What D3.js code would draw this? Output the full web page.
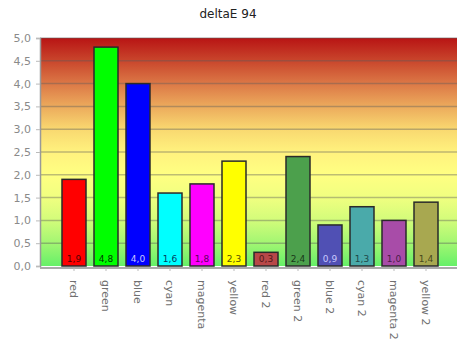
<!DOCTYPE html>
<html>
<head>
<meta charset="utf-8">
<script src="https://cdn.jsdelivr.net/npm/d3@7"></script>
<style>
  html, body { margin: 0; padding: 0; background: #fff; }
  svg { display: block; }
</style>
</head>
<body>
<div id="chart"></div>
<script>
// deltaE 94 per colour patch
const categories = ["red", "green", "blue", "cyan", "magenta", "yellow",
  "red 2", "green 2", "blue 2", "cyan 2", "magenta 2", "yellow 2"];
const values = [1.9, 4.8, 4.0, 1.6, 1.8, 2.3, 0.3, 2.4, 0.9, 1.3, 1.0, 1.4];
const barColors = ["#ff0000", "#00ff00", "#0000ff", "#00ffff", "#ff00ff", "#ffff00",
  "#b84848", "#4ca04c", "#5050b4", "#4aaaaa", "#a84ca8", "#a8a850"];
const labelColors = ["#500000", "#003800", "#c8c8ff", "#004060", "#600060", "#505000",
  "#501818", "#183818", "#c8c8ff", "#1c4848", "#481c48", "#48481c"];
const yTicks = [0, 0.5, 1, 1.5, 2, 2.5, 3, 3.5, 4, 4.5, 5];
const title = "deltaE 94";

const W = 457, H = 340;
const plot = { left: 40, right: 457, top: 38, bottom: 266 };

const svg = d3.select("#chart").append("svg")
  .attr("width", W).attr("height", H);

const x = d3.scaleBand()
  .domain(categories)
  .range([58, 442])
  .paddingInner(0.25)
  .paddingOuter(0.125);

const y = d3.scaleLinear().domain([0, 5]).range([plot.bottom, plot.top]);

const fmt = v => d3.format(".1f")(v).replace(".", ",");

// background gradient: red at the top through yellow to green at zero
const defs = svg.append("defs");
const grad = defs.append("linearGradient")
  .attr("id", "bg").attr("x1", 0).attr("y1", 0).attr("x2", 0).attr("y2", 1);
[["0%", "#b81414"], ["10%", "#c9462c"], ["20%", "#dc7846"], ["30%", "#ecaa5c"],
 ["40%", "#f9d870"], ["50%", "#fff27e"], ["60%", "#ffff82"], ["70%", "#f0ff80"],
 ["80%", "#d2fc7a"], ["90%", "#a2f672"], ["100%", "#66f068"]]
  .forEach(([o, c]) => grad.append("stop").attr("offset", o).attr("stop-color", c));

svg.append("rect")
  .attr("x", plot.left).attr("y", plot.top)
  .attr("width", plot.right - plot.left).attr("height", plot.bottom - plot.top)
  .attr("fill", "url(#bg)");

// horizontal grid lines
svg.append("g").selectAll("line")
  .data(yTicks.filter(t => t > 0))
  .join("line")
  .attr("x1", plot.left).attr("x2", plot.right)
  .attr("y1", d => y(d)).attr("y2", d => y(d))
  .attr("stroke", "rgba(90,90,90,0.4)")
  .attr("stroke-width", 1.5);

// y axis
const yAxis = svg.append("g")
  .attr("transform", `translate(${plot.left},0)`)
  .call(d3.axisLeft(y).tickValues(yTicks).tickFormat(fmt).tickSize(4).tickPadding(5));
yAxis.select(".domain").attr("stroke", "#999").attr("stroke-width", 1.5);
yAxis.selectAll(".tick line").attr("stroke", "#bbb");
yAxis.selectAll("text")
  .attr("fill", "#8a8a8a")
  .style("font-family", "DejaVu Sans, sans-serif")
  .style("font-size", "11px");

// bars
svg.append("g").selectAll("rect")
  .data(values)
  .join("rect")
  .attr("x", (d, i) => x(categories[i]))
  .attr("y", d => y(d))
  .attr("width", x.bandwidth())
  .attr("height", d => y(0) - y(d))
  .attr("fill", (d, i) => barColors[i])
  .attr("stroke", "#2a2a2a")
  .attr("stroke-width", 1.5);

// value labels at the foot of each bar
svg.append("g").selectAll("text")
  .data(values)
  .join("text")
  .attr("x", (d, i) => x(categories[i]) + x.bandwidth() / 2)
  .attr("y", plot.bottom - 4)
  .attr("text-anchor", "middle")
  .attr("fill", (d, i) => labelColors[i])
  .style("font-family", "DejaVu Sans, sans-serif")
  .style("font-size", "9px")
  .text(d => fmt(d));

// x axis
const xAxis = svg.append("g")
  .attr("transform", `translate(0,${plot.bottom + 2})`)
  .call(d3.axisBottom(x).tickSize(3).tickSizeOuter(0).tickPadding(8));
xAxis.select(".domain")
  .attr("d", `M${plot.left},0H${plot.right}`)
  .attr("stroke", "#aaa").attr("stroke-width", 2);
xAxis.selectAll(".tick line").attr("stroke", "#bbb");
xAxis.selectAll("text")
  .attr("transform", "rotate(90)")
  .attr("x", 12).attr("y", 0).attr("dy", "0.35em")
  .attr("text-anchor", "start")
  .attr("fill", "#707070")
  .style("font-family", "DejaVu Sans, sans-serif")
  .style("font-size", "11px");

// title
svg.append("text")
  .attr("x", 228).attr("y", 18)
  .attr("text-anchor", "middle")
  .attr("fill", "#222")
  .style("font-family", "DejaVu Sans, sans-serif")
  .style("font-size", "12px")
  .text(title);
</script>
</body>
</html>
